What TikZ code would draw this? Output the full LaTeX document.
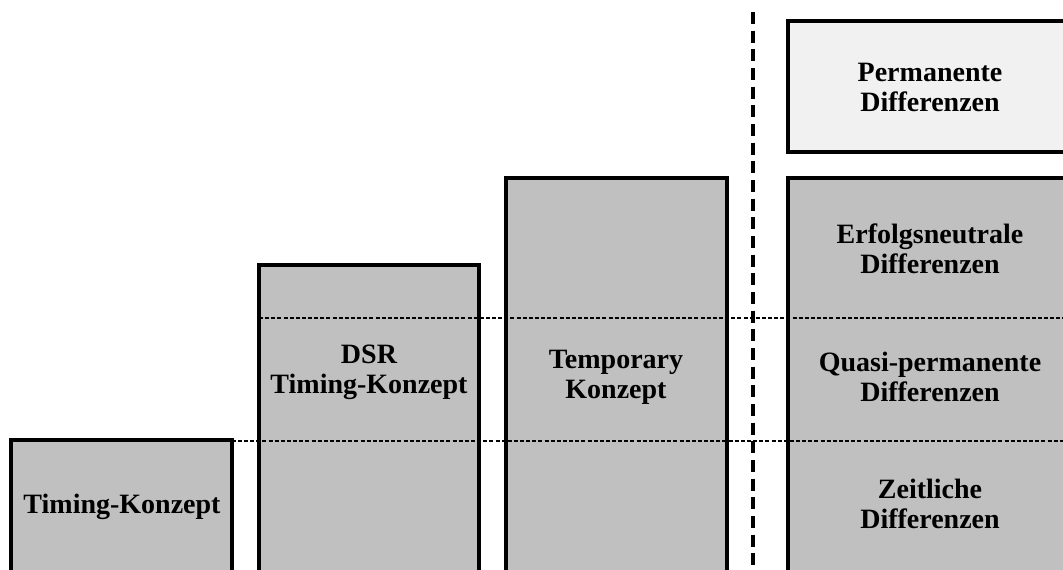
\documentclass[tikz,border=0pt]{standalone}
\usepackage{fontspec}
\setmainfont{Liberation Serif}
\begin{document}
\begin{tikzpicture}[x=0.75pt,y=-0.75pt,
  block/.style={draw=black, line width=2.4pt},
  level/.style={draw=black, line width=0.8pt, dash pattern=on 3pt off 1.6pt},
  divider/.style={draw=black, line width=2.3pt, dash pattern=on 9pt off 5pt},
  label/.style={font=\bfseries\fontsize{21}{22.5}\selectfont, align=center, inner sep=0pt}]
\useasboundingbox (0,0) rectangle (1063,570);
\clip (0,0) rectangle (1063,570);
\definecolor{boxgray}{RGB}{192,192,192}
\definecolor{boxlight}{RGB}{241,241,241}
% stacked concept blocks
\draw[block, fill=boxgray] (11,440) rectangle (232,590);
\draw[block, fill=boxgray] (259,265) rectangle (479,590);
\draw[block, fill=boxgray] (506,178) rectangle (727,590);
\draw[block, fill=boxgray] (788,178) rectangle (1080,590);
\draw[block, fill=boxlight] (788,21) rectangle (1080,152);
% level lines across the blocks
\coordinate (l1a) at (259,318);
\coordinate (l1b) at (1070,318);
\coordinate (l2a) at (11,441);
\coordinate (l2b) at (1070,441);
\draw[level] (l1a) -- (l1b);
\draw[level] (l2a) -- (l2b);
% vertical separator
\coordinate (sepTop) at (753,12);
\coordinate (sepBot) at (753,580);
\draw[divider] (sepTop) -- (sepBot);
% labels
\node[label] (timing) at (122,507) {Timing-Konzept};
\node[label] (dsr) at (369,372) {DSR\\Timing-Konzept};
\node[label] (temp) at (616,377) {Temporary\\Konzept};
\node[label] (perm) at (930,87) {Permanente\\Differenzen};
\node[label] (erfolg) at (930,249) {Erfolgsneutrale\\Differenzen};
\node[label] (quasi) at (930,377) {Quasi-permanente\\Differenzen};
\node[label] (zeit) at (930,504) {Zeitliche\\Differenzen};
\end{tikzpicture}
\end{document}
